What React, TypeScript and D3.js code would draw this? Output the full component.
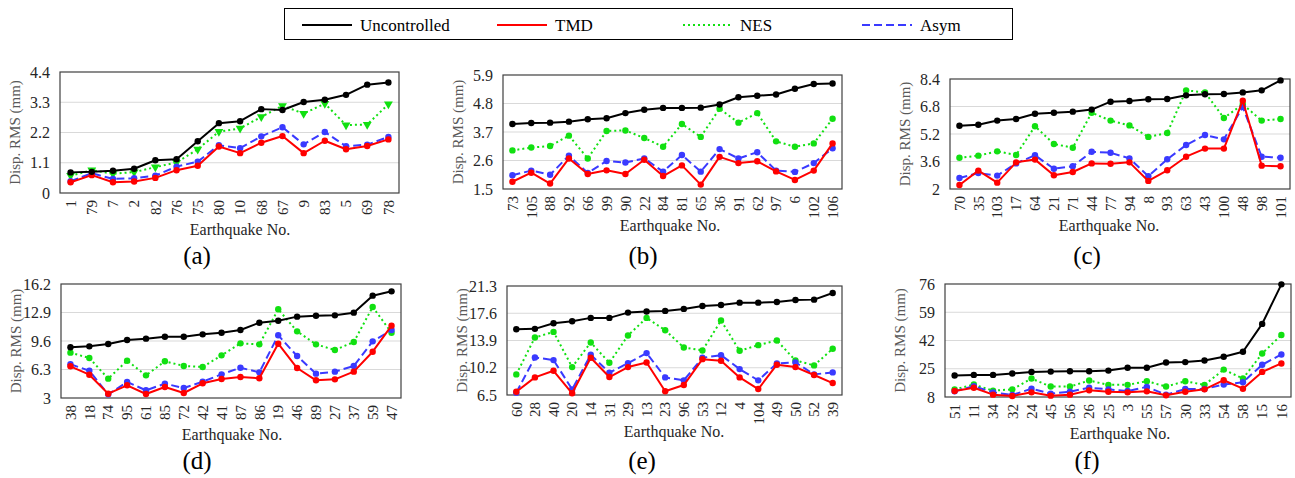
import React from 'react';
import * as d3 from 'd3';

// ---- data ----
const seriesNames = ['Uncontrolled', 'TMD', 'NES', 'Asym'];

const catsA = ['1', '79', '7', '2', '82', '76', '75', '80', '10', '68', '67', '9', '83', '5', '69', '78'];
const uncA = [0.75, 0.77, 0.81, 0.88, 1.19, 1.23, 1.88, 2.54, 2.61, 3.05, 3.02, 3.31, 3.39, 3.57, 3.94, 4.02];
const tmdA = [0.39, 0.65, 0.39, 0.42, 0.55, 0.83, 0.99, 1.69, 1.45, 1.83, 2.07, 1.45, 1.9, 1.59, 1.71, 1.95];
const nesA = [0.63, 0.83, 0.7, 0.76, 0.94, 1.11, 1.59, 2.23, 2.35, 2.77, 3.17, 2.89, 3.25, 2.47, 2.49, 3.23];
const asymA = [0.43, 0.72, 0.51, 0.54, 0.63, 0.96, 1.14, 1.74, 1.63, 2.06, 2.39, 1.77, 2.22, 1.7, 1.76, 2.04];
const ticksA = [0, 1.1, 2.2, 3.3, 4.4];

const catsB = ['73', '105', '88', '92', '66', '99', '90', '22', '84', '81', '65', '36', '91', '62', '97', '6', '102', '106'];
const uncB = [4.01, 4.05, 4.06, 4.1, 4.19, 4.23, 4.43, 4.56, 4.63, 4.63, 4.64, 4.76, 5.04, 5.1, 5.15, 5.37, 5.55, 5.57];
const tmdB = [1.78, 2.13, 1.71, 2.68, 2.08, 2.22, 2.08, 2.63, 2.0, 2.41, 1.67, 2.74, 2.5, 2.57, 2.18, 1.85, 2.21, 3.26];
const nesB = [2.99, 3.1, 3.16, 3.56, 2.68, 3.74, 3.76, 3.47, 3.13, 4.01, 3.51, 4.6, 4.06, 4.43, 3.34, 3.13, 3.26, 4.21];
const asymB = [2.03, 2.21, 2.05, 2.79, 2.12, 2.58, 2.52, 2.68, 2.17, 2.81, 2.17, 3.04, 2.68, 2.92, 2.21, 2.16, 2.5, 3.07];
const ticksB = [1.5, 2.6, 3.7, 4.8, 5.9];

const catsC = ['70', '35', '103', '17', '64', '21', '71', '44', '77', '94', '8', '93', '63', '43', '100', '48', '98', '101'];
const uncC = [5.68, 5.74, 5.98, 6.07, 6.38, 6.44, 6.5, 6.62, 7.08, 7.12, 7.22, 7.24, 7.45, 7.51, 7.53, 7.62, 7.74, 8.32];
const tmdC = [2.23, 3.07, 2.37, 3.55, 3.71, 2.8, 2.99, 3.49, 3.47, 3.55, 2.47, 3.09, 3.88, 4.35, 4.35, 7.14, 3.36, 3.32];
const nesC = [3.82, 3.94, 4.19, 3.98, 5.65, 4.62, 4.4, 6.44, 5.98, 5.7, 5.03, 5.26, 7.74, 7.62, 6.13, 6.93, 5.98, 6.07];
const asymC = [2.64, 2.93, 2.78, 3.49, 3.96, 3.18, 3.32, 4.17, 4.11, 3.78, 2.74, 3.73, 4.56, 5.14, 4.89, 6.77, 3.88, 3.82];
const ticksC = [2, 3.6, 5.2, 6.8, 8.4];

const catsD = ['38', '18', '74', '95', '61', '85', '72', '42', '41', '87', '86', '19', '46', '89', '27', '37', '59', '47'];
const uncD = [8.87, 8.98, 9.25, 9.72, 9.87, 10.1, 10.1, 10.37, 10.56, 10.87, 11.72, 11.95, 12.42, 12.53, 12.57, 12.88, 14.85, 15.35];
const tmdD = [6.67, 5.7, 3.5, 4.47, 3.46, 4.27, 3.58, 4.7, 5.2, 5.43, 5.28, 9.29, 6.47, 5.05, 5.16, 6.05, 8.36, 11.38];
const nesD = [8.25, 7.63, 5.24, 7.32, 5.62, 7.25, 6.71, 6.59, 7.94, 9.33, 9.21, 13.27, 10.72, 9.21, 8.56, 9.48, 13.54, 10.56];
const asymD = [6.9, 6.16, 3.42, 4.85, 3.89, 4.66, 4.16, 4.89, 5.74, 6.51, 5.97, 10.26, 7.86, 5.82, 6.05, 6.71, 9.56, 10.87];
const ticksD = [3, 6.3, 9.6, 12.9, 16.2];

const catsE = ['60', '28', '40', '20', '14', '31', '29', '13', '23', '96', '53', '12', '4', '104', '49', '50', '52', '39'];
const uncE = [15.43, 15.48, 16.25, 16.52, 16.97, 16.97, 17.69, 17.83, 17.92, 18.19, 18.59, 18.73, 19.04, 19.04, 19.13, 19.4, 19.45, 20.35];
const tmdE = [6.95, 8.89, 9.79, 6.73, 11.55, 8.94, 10.29, 10.92, 7.0, 7.85, 11.37, 11.15, 8.89, 7.31, 10.61, 10.29, 9.21, 8.12];
const nesE = [9.3, 14.31, 15.07, 10.29, 13.63, 10.88, 14.58, 16.97, 15.3, 12.95, 12.55, 16.61, 12.5, 13.27, 13.9, 11.19, 10.52, 12.77];
const asymE = [6.82, 11.6, 11.24, 7.27, 11.96, 9.52, 10.83, 12.19, 8.89, 8.49, 11.55, 11.91, 10.02, 8.49, 10.79, 10.92, 9.3, 9.57];
const ticksE = [6.5, 10.2, 13.9, 17.6, 21.3];

const catsF = ['51', '11', '34', '32', '24', '45', '56', '26', '25', '3', '55', '57', '30', '33', '54', '58', '15', '16'];
const uncF = [20.9, 21.3, 21.3, 22.1, 23.1, 23.3, 23.5, 23.5, 23.9, 25.6, 25.6, 28.8, 29.0, 30.0, 32.2, 35.2, 52.0, 75.8];
const tmdF = [11.6, 13.6, 9.4, 8.6, 10.8, 8.8, 9.4, 12.0, 11.2, 10.8, 11.4, 9.0, 11.2, 12.6, 18.1, 13.0, 23.1, 28.2];
const nesF = [12.6, 15.5, 11.8, 12.6, 19.1, 14.3, 14.3, 17.9, 15.3, 15.3, 17.5, 14.3, 17.5, 15.3, 24.5, 19.1, 34.2, 45.3];
const asymF = [11.4, 14.5, 10.8, 9.2, 13.0, 10.0, 11.2, 13.6, 12.6, 11.6, 14.1, 9.4, 12.8, 12.8, 15.5, 16.9, 27.4, 33.6];
const ticksF = [8, 25, 42, 59, 76];

// ---- styles ----
const FONT = 'Liberation Serif';
const styles = [
  { color: '#000000', dash: null, width: 2 },
  { color: '#ff0000', dash: null, width: 2 },
  { color: '#11e011', dash: '2,3', width: 2 },
  { color: '#3a3aff', dash: '8,4', width: 2 },
];

const panels = [
  { label: '(a)', cats: catsA, series: [uncA, tmdA, nesA, asymA], ticks: ticksA, x: 60, y: 72, w: 339, h: 121, titleX: 240, capX: 197, triNes: true },
  { label: '(b)', cats: catsB, series: [uncB, tmdB, nesB, asymB], ticks: ticksB, x: 503, y: 75, w: 339, h: 114, titleX: 670, capX: 643 },
  { label: '(c)', cats: catsC, series: [uncC, tmdC, nesC, asymC], ticks: ticksC, x: 950, y: 79, w: 340, h: 110, titleX: 1109, capX: 1087 },
  { label: '(d)', cats: catsD, series: [uncD, tmdD, nesD, asymD], ticks: ticksD, x: 61, y: 284, w: 340, h: 114, titleX: 232, capX: 197 },
  { label: '(e)', cats: catsE, series: [uncE, tmdE, nesE, asymE], ticks: ticksE, x: 507, y: 286, w: 335, h: 109, titleX: 674, capX: 642 },
  { label: '(f)', cats: catsF, series: [uncF, tmdF, nesF, asymF], ticks: ticksF, x: 945, y: 284, w: 346, h: 113, titleX: 1120, capX: 1087 },
];

const capY = [264, 469];

function Panel({ p, row }) {
  const xScale = d3.scalePoint().domain(p.cats).range([p.x, p.x + p.w]).padding(0.5);
  const yScale = d3.scaleLinear()
    .domain([p.ticks[0], p.ticks[p.ticks.length - 1]])
    .range([p.y + p.h, p.y]);
  const line = d3.line()
    .x((d, i) => xScale(p.cats[i]))
    .y(d => yScale(d));
  const bottom = p.y + p.h;
  const tri = d3.symbol().type(d3.symbolTriangle).size(34)();

  return (
    <g>
      {/* grid */}
      {p.ticks.slice(1, -1).map(t => (
        <line key={t} x1={p.x} x2={p.x + p.w} y1={yScale(t)} y2={yScale(t)} stroke="#d9d9d9" strokeWidth={1.2} />
      ))}
      <rect x={p.x} y={p.y} width={p.w} height={p.h} fill="none" stroke="#404040" strokeWidth={1.2} />

      {/* y axis labels */}
      {p.ticks.map(t => (
        <text key={t} x={p.x - 10} y={yScale(t)} dy="0.35em" textAnchor="end" fontFamily={FONT} fontSize={16} fill="#262626">{t}</text>
      ))}
      <text transform={`translate(${p.x - 45},${p.y + p.h / 2}) rotate(-90)`} textAnchor="middle" dy="0.35em"
        fontFamily={FONT} fontSize={15} fill="#595959">Disp. RMS (mm)</text>

      {/* x axis labels */}
      {p.cats.map(c => (
        <text key={c} transform={`translate(${xScale(c)},${bottom + 7}) rotate(-90)`} textAnchor="end" dy="0.35em"
          fontFamily={FONT} fontSize={15} fill="#262626">{c}</text>
      ))}
      <text x={p.titleX} y={bottom + 42} textAnchor="middle" fontFamily={FONT} fontSize={16} fill="#262626">Earthquake No.</text>
      <text x={p.capX} y={capY[row]} textAnchor="middle" fontFamily={FONT} fontSize={25} fill="#000">{p.label}</text>

      {/* series, drawn bottom to top */}
      {[2, 3, 1, 0].map(si => {
        const st = styles[si];
        const vals = p.series[si];
        return (
          <g key={si}>
            <path d={line(vals)} fill="none" stroke={st.color} strokeWidth={st.width}
              strokeDasharray={st.dash || undefined} strokeLinejoin="round" />
            {vals.map((v, i) => (
              si === 2 && p.triNes
                ? <path key={i} d={tri} transform={`translate(${xScale(p.cats[i])},${yScale(v)}) rotate(180)`} fill={st.color} />
                : <circle key={i} cx={xScale(p.cats[i])} cy={yScale(v)} r={3.2} fill={st.color} />
            ))}
          </g>
        );
      })}
    </g>
  );
}

const legendPos = [
  { lx: 302, tx: 360 },
  { lx: 497, tx: 555 },
  { lx: 683, tx: 740 },
  { lx: 862, tx: 920 },
];

export default function App() {
  return (
    <div style={{ position: 'absolute', left: 0, top: 0 }}>
      <svg width={1295} height={478} style={{ display: 'block', background: '#fff' }}>
        <rect x={0} y={0} width={1295} height={478} fill="#fff" />
        {/* legend */}
        <rect x={284.5} y={8.5} width={728} height={31} fill="#fff" stroke="#000" strokeWidth={1} />
        {seriesNames.map((n, i) => (
          <g key={n}>
            <line x1={legendPos[i].lx} x2={legendPos[i].lx + 50} y1={25} y2={25} stroke={styles[i].color}
              strokeWidth={2} strokeDasharray={styles[i].dash || undefined} />
            <text x={legendPos[i].tx} y={25} dy="0.35em" fontFamily={FONT} fontSize={17} fill="#000">{n}</text>
          </g>
        ))}
        {panels.map((p, i) => <Panel key={p.label} p={p} row={i < 3 ? 0 : 1} />)}
      </svg>
    </div>
  );
}
